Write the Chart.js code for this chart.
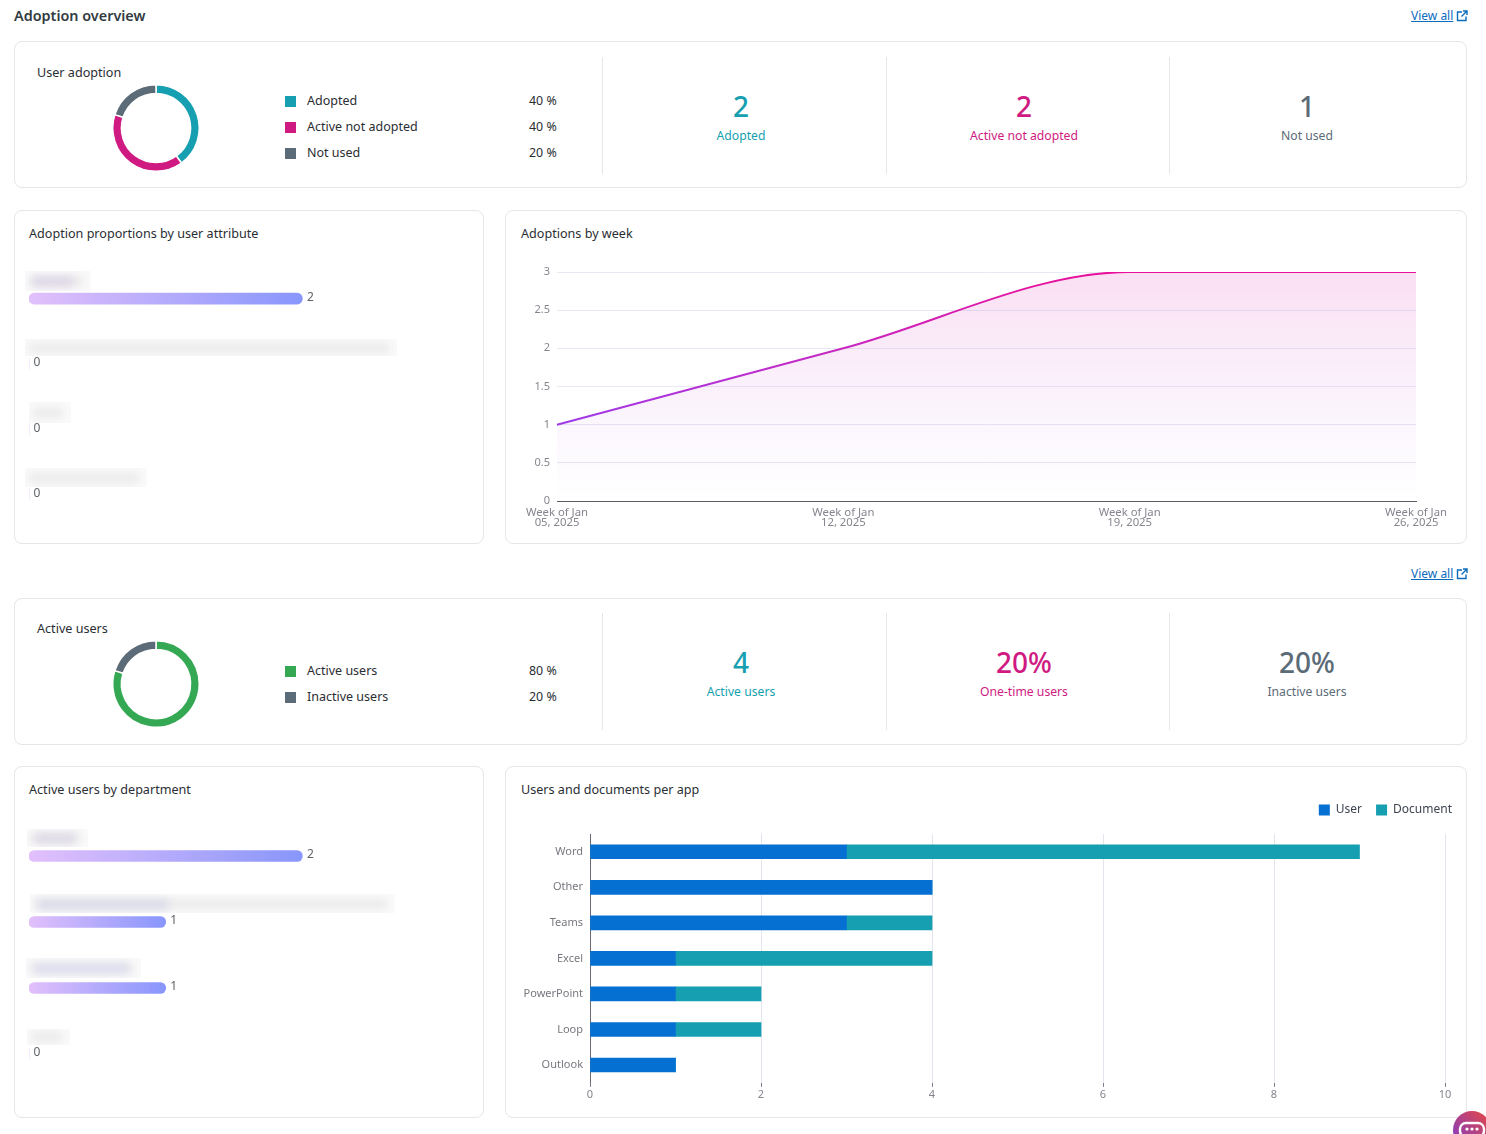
<!DOCTYPE html>
<html>
<head>
<meta charset="utf-8">
<title>Adoption overview</title>
<script src="https://cdn.jsdelivr.net/npm/chart.js@4"></script>
<style>
  html, body { margin: 0; padding: 0; background: #fff; }
  body { width: 1486px; height: 1134px; position: relative; overflow: hidden; font-family: "Noto Sans", sans-serif; color: #2a2e33; font-size: 12.6px; }
  .card { position: absolute; box-sizing: border-box; border: 1px solid #e6e6e6; border-radius: 8px; background: #fff; }
  .txt { position: absolute; white-space: nowrap; line-height: 18px; }
  .head { font-weight: 600; font-size: 14.4px; color: #333b42; }
  .link { color: #0b6cbd; font-size: 12px; text-decoration: underline; }
  .sep { position: absolute; width: 1px; height: 117px; background: #e6e6e6; }
  .swatch { position: absolute; width: 11px; height: 11px; }
  .num { position: absolute; width: 200px; text-align: center; font-size: 28px; font-weight: 500; line-height: 36px; }
  .lab { position: absolute; width: 200px; text-align: center; line-height: 18px; font-size: 12.2px; }
  canvas { position: absolute; }
  .mask { position: absolute; overflow: hidden; background: #fbfafb; }
  .mask i { position: absolute; display: block; filter: blur(4px); }
</style>
</head>
<body>

<div class="txt head" style="left:14px;top:7px">Adoption overview</div>
<div class="txt link" style="left:1411px;top:7px">View all</div>
<svg style="position:absolute;left:1456px;top:10px" width="12" height="12" viewBox="0 0 12 12" fill="none" stroke="#0b6cbd" stroke-width="1.4"><path d="M6 2H1.5v8.5H10V6.5M7 1h4v4M11 1L5.5 6.5"/></svg>
<div class="txt link" style="left:1411px;top:565px">View all</div>
<svg style="position:absolute;left:1456px;top:568px" width="12" height="12" viewBox="0 0 12 12" fill="none" stroke="#0b6cbd" stroke-width="1.4"><path d="M6 2H1.5v8.5H10V6.5M7 1h4v4M11 1L5.5 6.5"/></svg>

<div class="card" style="left:14px;top:41px;width:1453px;height:147px"></div>
<div class="card" style="left:14px;top:210px;width:470px;height:334px"></div>
<div class="card" style="left:505px;top:210px;width:962px;height:334px"></div>
<div class="card" style="left:14px;top:598px;width:1453px;height:147px"></div>
<div class="card" style="left:14px;top:766px;width:470px;height:352px"></div>
<div class="card" style="left:505px;top:766px;width:962px;height:352px"></div>

<div class="txt" style="left:37px;top:64px">User adoption</div>
<div class="txt" style="left:29px;top:225px">Adoption proportions by user attribute</div>
<div class="txt" style="left:521px;top:225px">Adoptions by week</div>
<div class="txt" style="left:37px;top:620px">Active users</div>
<div class="txt" style="left:29px;top:781px">Active users by department</div>
<div class="txt" style="left:521px;top:781px">Users and documents per app</div>

<div class="sep" style="left:602px;top:57px"></div>
<div class="sep" style="left:886px;top:57px"></div>
<div class="sep" style="left:1169px;top:57px"></div>
<div class="sep" style="left:602px;top:613px"></div>
<div class="sep" style="left:886px;top:613px"></div>
<div class="sep" style="left:1169px;top:613px"></div>

<div id="stats"></div>
<div id="legends"></div>
<div id="masks"></div>

<canvas id="adoptionDonut" style="left:106px;top:78px;width:100px;height:100px"></canvas>
<canvas id="activeDonut" style="left:106px;top:634px;width:100px;height:100px"></canvas>
<canvas id="attributeBars" style="left:15px;top:256px;width:468px;height:280px"></canvas>
<canvas id="weekLine" style="left:506px;top:255px;width:960px;height:285px"></canvas>
<canvas id="departmentBars" style="left:15px;top:813px;width:468px;height:283px"></canvas>
<canvas id="appBars" style="left:506px;top:795px;width:960px;height:307px"></canvas>

<svg style="position:absolute;left:1450px;top:1108px" width="36" height="26" viewBox="0 0 36 26">
  <defs><linearGradient id="bot" x1="0" y1="1" x2="1" y2="0"><stop offset="0" stop-color="#7a3bd0"/><stop offset="1" stop-color="#e8483f"/></linearGradient></defs>
  <circle cx="22" cy="22" r="19" fill="url(#bot)"/>
  <rect x="10" y="15" width="24" height="14" rx="6" fill="none" stroke="#fff" stroke-width="2.4"/>
  <circle cx="17" cy="21" r="1.6" fill="#fff"/><circle cx="22" cy="21" r="1.6" fill="#fff"/><circle cx="27" cy="21" r="1.6" fill="#fff"/>
</svg>

<script>
// adoption donut
const adoptionLabels = ["Adopted", "Active not adopted", "Not used"];
const adoptionShare = [40, 40, 20];
const adoptionCounts = ["2", "2", "1"];

// active users donut
const activeLabels = ["Active users", "Inactive users"];
const activeShare = [80, 20];
const activeStatLabels = ["Active users", "One-time users", "Inactive users"];
const activeStats = ["4", "20%", "20%"];

// horizontal bars, the names are blurred out in the source
const attributeNames = ["Attribute 1", "Attribute 2", "Attribute 3", "Attribute 4"];
const attributeValues = [2, 0, 0, 0];
const departmentNames = ["Department 1", "Department 2", "Department 3", "Department 4"];
const departmentValues = [2, 1, 1, 0];

// adoptions by week
const weekLabels = [["Week of Jan", "05, 2025"], ["Week of Jan", "12, 2025"], ["Week of Jan", "19, 2025"], ["Week of Jan", "26, 2025"]];
const weekValues = [1, 2, 3, 3];

// users and documents per app
const appNames = ["Word", "Other", "Teams", "Excel", "PowerPoint", "Loop", "Outlook"];
const appUsers = [3, 4, 3, 1, 1, 1, 1];
const appDocuments = [6, 0, 1, 3, 1, 1, 0];

const TEAL = "#169fb0";
const PINK = "#cf1a82";
const SLATE = "#5b6b77";
const GREEN = "#34a853";
const BLUE = "#0670d2";

Chart.defaults.font.family = '"Noto Sans", sans-serif';
Chart.defaults.animation = false;
Chart.defaults.responsive = false;
Chart.defaults.devicePixelRatio = 1;

function addStats(values, labels, colors, numTop, labTop) {
    const box = document.getElementById("stats");
    const centers = [741, 1024, 1307];
    values.forEach(function (v, i) {
        box.insertAdjacentHTML("beforeend",
            '<div class="num" style="left:' + (centers[i] - 100) + 'px;top:' + numTop + 'px;color:' + colors[i] + '">' + v + '</div>' +
            '<div class="lab" style="left:' + (centers[i] - 100) + 'px;top:' + labTop + 'px;color:' + colors[i] + '">' + labels[i] + '</div>');
    });
}

function addLegend(labels, shares, colors, rowTops) {
    const box = document.getElementById("legends");
    labels.forEach(function (name, i) {
        box.insertAdjacentHTML("beforeend",
            '<div class="swatch" style="left:285px;top:' + (rowTops[i] - 5) + 'px;background:' + colors[i] + '"></div>' +
            '<div class="txt" style="left:307px;top:' + (rowTops[i] - 9) + 'px;font-size:12.5px">' + name + '</div>' +
            '<div class="txt" style="left:529px;top:' + (rowTops[i] - 9) + 'px;font-size:12.4px">' + shares[i] + ' %</div>');
    });
}

// the blurred label patches
function addMask(x, y, w, h, tone, toneW) {
    const box = document.getElementById("masks");
    box.insertAdjacentHTML("beforeend",
        '<div class="mask" style="left:' + x + 'px;top:' + y + 'px;width:' + w + 'px;height:' + h + 'px">' +
        '<i style="left:4px;top:' + (h / 2 - 5) + 'px;width:' + (w - 12) + 'px;height:10px;background:#eaeaea"></i>' +
        (tone ? '<i style="left:8px;top:' + (h / 2 - 4) + 'px;width:' + toneW + 'px;height:9px;background:' + tone + '"></i>' : '') +
        '</div>');
}

addStats(adoptionCounts, adoptionLabels, [TEAL, PINK, SLATE], 88, 127);
addStats(activeStats, activeStatLabels, [TEAL, PINK, SLATE], 644, 683);
addLegend(adoptionLabels, adoptionShare, [TEAL, PINK, SLATE], [101, 127, 153]);
addLegend(activeLabels, activeShare, [GREEN, SLATE], [671, 697]);

addMask(25, 271, 66, 20, "#dcd4e6", 40);
addMask(25, 339, 372, 17);
addMask(29, 402, 42, 21);
addMask(25, 468, 122, 19);
addMask(27, 829, 61, 18, "#dcd8e6", 40);
addMask(30, 894, 365, 19, "#d9d9ea", 130);
addMask(26, 958, 115, 20, "#dcdcf0", 95);
addMask(27, 1029, 43, 16);

function donut(id, values, colors) {
    return new Chart(document.getElementById(id), {
        type: "doughnut",
        data: {
            datasets: [{ data: values, backgroundColor: colors, borderColor: "#fff", borderWidth: 1.5 }]
        },
        options: {
            cutout: "80%",
            layout: { padding: 6 },
            plugins: { legend: { display: false }, tooltip: { enabled: false } }
        }
    });
}

donut("adoptionDonut", adoptionShare, [TEAL, PINK, SLATE]);
donut("activeDonut", activeShare, [GREEN, SLATE]);

// value next to the end of each bar
const barValueLabels = {
    id: "barValueLabels",
    afterDatasetsDraw(chart) {
        const ctx = chart.ctx;
        const meta = chart.getDatasetMeta(0);
        ctx.save();
        ctx.font = '12px "Noto Sans", sans-serif';
        ctx.fillStyle = "#5f6368";
        ctx.textAlign = "center";
        ctx.textBaseline = "middle";
        meta.data.forEach(function (bar, i) {
            ctx.fillText(chart.data.datasets[0].data[i], bar.x + 8, bar.y - 1);
        });
        ctx.restore();
    }
};

function barGradient(context) {
    const chart = context.chart;
    const scale = chart.scales.x;
    const value = context.raw;
    if (!scale || !value || !chart.chartArea) {
        return "#e0bffb";
    }
    const x0 = scale.getPixelForValue(0);
    const x1 = scale.getPixelForValue(value);
    if (!Number.isFinite(x0) || !Number.isFinite(x1)) {
        return "#e0bffb";
    }
    const g = chart.ctx.createLinearGradient(x0, 0, x1, 0);
    g.addColorStop(0, "#e2c0fb");
    g.addColorStop(1, "#8896fc");
    return g;
}

function progressBars(id, names, values) {
    return new Chart(document.getElementById(id), {
        type: "bar",
        data: {
            labels: names,
            datasets: [{
                data: values,
                backgroundColor: barGradient,
                barThickness: 11,
                borderRadius: 6,
                borderSkipped: false
            }]
        },
        options: {
            indexAxis: "y",
            layout: { padding: { left: 14, right: 44, top: 10, bottom: 9 } },
            scales: {
                x: { display: false, min: 0, max: 3 },
                y: { display: false }
            },
            plugins: { legend: { display: false }, tooltip: { enabled: false } }
        },
        plugins: [barValueLabels]
    });
}

progressBars("attributeBars", attributeNames, attributeValues);
progressBars("departmentBars", departmentNames, departmentValues);

new Chart(document.getElementById("weekLine"), {
    type: "line",
    data: {
        labels: weekLabels,
        datasets: [{
            data: weekValues,
            cubicInterpolationMode: "monotone",
            pointRadius: 0,
            borderWidth: 2,
            fill: "origin",
            borderColor: function (context) {
                const area = context.chart.chartArea;
                if (!area) return PINK;
                const g = context.chart.ctx.createLinearGradient(0, area.top, 0, area.bottom);
                g.addColorStop(0, "#e8109a");
                g.addColorStop(0.33, "#c828c0");
                g.addColorStop(0.66, "#a03ae8");
                g.addColorStop(1, "#8a3cf0");
                return g;
            },
            backgroundColor: function (context) {
                const area = context.chart.chartArea;
                if (!area) return "rgba(224,24,154,0.1)";
                const g = context.chart.ctx.createLinearGradient(0, area.top, 0, area.bottom);
                g.addColorStop(0, "rgba(224,40,170,0.15)");
                g.addColorStop(1, "rgba(170,90,240,0)");
                return g;
            }
        }]
    },
    options: {
        layout: { padding: { top: 17, right: 50 } },
        scales: {
            x: {
                offset: false,
                grid: { display: false, drawTicks: false },
                border: { color: "#5c5c66", width: 1 },
                ticks: {
                    maxRotation: 0,
                    autoSkip: false,
                    padding: 6,
                    color: "#85858f",
                    font: { size: 11.3, lineHeight: 0.95 }
                },
                afterFit(scale) { scale.height = 39; }
            },
            y: {
                min: 0,
                max: 3,
                grid: { color: "#e7e9f5", drawTicks: false },
                border: { display: false },
                ticks: {
                    stepSize: 0.5,
                    padding: 7,
                    color: "#85858f",
                    font: { size: 11 },
                    callback: function (value) { return String(value); }
                },
                afterFit(scale) { scale.width = 51; }
            }
        },
        plugins: { legend: { display: false }, tooltip: { enabled: false } }
    }
});

// the legend sits further right and higher than the plot would place it
const legendNudge = {
    id: "legendNudge",
    afterLayout(chart) {
        const legend = chart.legend;
        legend.left += 21;
        legend.right += 21;
        legend.top -= 8;
        legend.bottom -= 8;
    }
};

new Chart(document.getElementById("appBars"), {
    type: "bar",
    data: {
        labels: appNames,
        datasets: [
            { label: "User", data: appUsers, backgroundColor: BLUE, barThickness: 14 },
            { label: "Document", data: appDocuments, backgroundColor: TEAL, barThickness: 14 }
        ]
    },
    options: {
        indexAxis: "y",
        layout: { padding: { top: 3, right: 21 } },
        scales: {
            x: {
                stacked: true,
                min: 0,
                max: 10,
                grid: { color: "#e2e4ee", tickColor: "#7c7c86", tickLength: 4 },
                border: { display: false },
                ticks: { stepSize: 2, padding: 1, maxRotation: 0, color: "#85858f", font: { size: 11 } }
            },
            y: {
                stacked: true,
                grid: { display: false, drawTicks: false },
                border: { color: "#6b6b75", width: 1 },
                ticks: { padding: 7, color: "#77777f", font: { size: 11 } },
                afterFit(scale) { scale.width = 84; }
            }
        },
        plugins: {
            tooltip: { enabled: false },
            legend: {
                position: "top",
                align: "end",
                labels: { boxWidth: 11, boxHeight: 11, padding: 14, color: "#3e4450", font: { size: 12 } }
            }
        }
    },
    plugins: [legendNudge]
});
</script>
</body>
</html>
